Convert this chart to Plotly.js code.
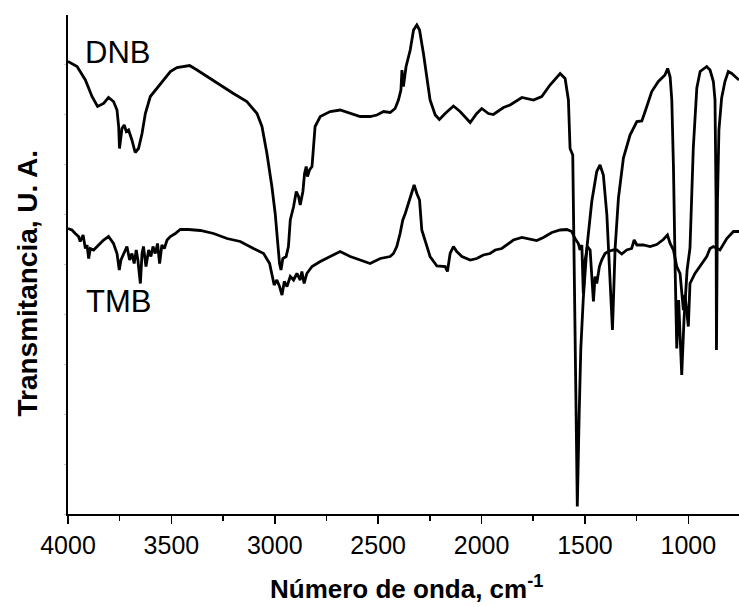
<!DOCTYPE html>
<html>
<head>
<meta charset="utf-8">
<script src="https://cdn.plot.ly/plotly-3.0.1.min.js"></script>
<style>
  html, body { margin: 0; padding: 0; background: #fff; }
  #chart { width: 739px; height: 607px; }
</style>
</head>
<body>
<div id="chart"></div>
<script>
// FTIR spectra, wavenumber (cm^-1) vs transmittance (arbitrary units)
const dnbWavenumber = [4000,3956,3916,3884,3857,3828,3804,3780,3763,3755,3751,3739,3728,3718,3707,3691,3675,3659,3642,3626,3602,3570,3538,3505,3473,3441,3412,3376,3328,3264,3200,3135,3086,3062,3038,3014,2998,2987,2977,2970,2961,2945,2934,2925,2909,2896,2885,2877,2864,2856,2848,2842,2832,2820,2805,2780,2732,2684,2635,2587,2539,2506,2474,2442,2418,2402,2390,2385,2378,2365,2345,2329,2313,2300,2281,2265,2249,2224,2204,2176,2136,2104,2055,2023,1999,1967,1943,1894,1862,1805,1749,1709,1669,1620,1596,1580,1572,1559,1551,1543,1537,1528,1520,1508,1491,1467,1443,1427,1411,1394,1378,1367,1354,1338,1314,1282,1249,1225,1209,1177,1145,1113,1100,1088,1080,1072,1064,1056,1047,1032,1021,1006,992,976,959,943,911,895,879,871,866,864,859,852,839,823,807,790,774,755];
const dnbTransmittance = [90.5,89.5,86.8,83.5,81.5,82.1,83.3,82.5,80.8,77.5,73.1,77.1,77.8,76.5,76.8,74.8,72.3,73.1,76.1,80.1,83.5,85.1,86.8,88.5,89.3,89.5,89.7,88.8,87.5,85.8,84.1,82.5,80.1,77.5,72.1,65.5,60.1,54.8,50.1,48.8,51.1,51.5,53.5,58.8,61.5,64.5,63.5,61.8,64.5,68.1,69.5,67.5,68.8,69.5,77.5,79.5,80.5,80.8,80.1,79.5,79.5,79.8,80.5,80.3,81.1,82.8,84.8,88.8,85.5,89.5,92.8,96.8,97.8,96.8,92.1,87.5,82.8,79.8,78.9,80.1,81.6,80.5,78.3,80.1,81.1,80.1,79.9,81.3,81.8,83.3,82.8,83.5,85.8,88.1,87.1,82.8,73.1,71.8,46.5,19.8,1.5,19.8,33.1,43.1,53.1,62.5,68.5,69.8,67.8,59.8,46.5,36.8,53.2,63.2,71.2,75.8,78.5,78.6,80.5,84.5,86.5,87.8,89.1,87.4,82.8,69.5,49.5,33.1,42.8,27.8,38.8,48.8,53.2,73.2,85.2,88.5,89.5,88.8,86.5,82.8,62.8,32.8,62.8,76.8,83.2,86.5,88.5,88.1,87.5,86.8];

const tmbWavenumber = [4000,3981,3965,3949,3941,3927,3916,3908,3900,3892,3876,3852,3828,3804,3780,3763,3752,3744,3731,3715,3702,3691,3680,3670,3662,3650,3642,3635,3623,3610,3599,3589,3578,3567,3557,3546,3534,3521,3505,3481,3457,3417,3360,3296,3231,3167,3103,3054,3025,3014,3003,2990,2977,2965,2954,2941,2925,2909,2893,2877,2869,2858,2845,2820,2780,2732,2684,2635,2587,2539,2490,2442,2426,2410,2394,2381,2369,2354,2337,2326,2313,2300,2289,2273,2249,2216,2176,2165,2152,2136,2120,2095,2055,2023,1991,1959,1934,1902,1878,1846,1805,1765,1733,1701,1660,1620,1588,1564,1548,1532,1524,1515,1508,1499,1488,1475,1459,1451,1443,1430,1419,1403,1387,1363,1346,1322,1298,1274,1262,1249,1218,1185,1153,1121,1101,1088,1072,1056,1040,1024,1016,1000,992,968,943,911,895,879,847,814,782,755];
const tmbTransmittance = [57.1,56.8,56.1,55.5,54.5,55.8,53.1,53.8,51.1,53.1,52.8,53.8,54.8,55.5,54.1,52.1,48.8,50.8,52.1,53.5,50.8,52.1,50.1,52.8,50.8,46.1,52.1,53.5,49.5,52.8,51.5,53.5,52.1,54.1,50.1,53.8,53.1,54.8,55.5,56.1,56.9,56.9,56.7,56.1,55.1,54.5,53.1,52.1,50.1,47.8,45.8,46.8,45.5,43.8,46.5,45.5,47.5,46.8,48.1,46.8,48.5,46.1,48.1,49.5,50.5,51.5,52.5,51.5,50.8,50.1,51.1,51.5,52.1,53.5,56.1,58.8,60.1,62.1,64.8,65.8,64.1,62.8,56.8,54.8,51.5,49.6,49.5,48.5,52.1,53.5,52.5,51.5,50.8,51.1,51.8,52.1,52.8,53.1,53.8,54.8,55.3,54.9,54.7,55.3,56.3,56.8,56.9,56.5,55.1,54.1,52.8,53.8,44.1,50.8,53.5,52.8,42.5,47.5,46.1,49.5,50.8,52.1,52.5,52.8,52.8,52.0,52.8,53.1,54.8,53.8,53.8,53.5,53.9,54.9,55.8,54.1,52.8,49.5,48.1,40.8,43.8,37.5,46.1,48.1,49.5,51.5,53.1,53.5,52.8,55.1,56.5,56.5];

const xTickVals = [4000, 3500, 3000, 2500, 2000, 1500, 1000];
const xTickText = ['4000', '3500', '3000', '2500', '2000', '1500', '1000'];
const sampleNames = ['DNB', 'TMB'];

const FONT = 'Arial, "Liberation Sans", Helvetica, sans-serif';
const lineStyle = { color: '#000', width: 2.8 };

const traces = [
  { x: dnbWavenumber, y: dnbTransmittance, name: sampleNames[0], mode: 'lines', line: lineStyle, hoverinfo: 'skip' },
  { x: tmbWavenumber, y: tmbTransmittance, name: sampleNames[1], mode: 'lines', line: lineStyle, hoverinfo: 'skip' }
];

const layout = {
  width: 739,
  height: 607,
  margin: { l: 68, r: 0, t: 15, b: 93, pad: 0 },
  paper_bgcolor: '#fff',
  plot_bgcolor: '#fff',
  showlegend: false,
  font: { family: FONT, color: '#000' },
  xaxis: {
    range: [4000, 755],
    showgrid: false,
    zeroline: false,
    showline: true,
    linecolor: '#000',
    linewidth: 2,
    ticks: 'outside',
    ticklen: 8,
    tickwidth: 1.6,
    tickcolor: '#000',
    tickvals: xTickVals,
    ticktext: xTickText,
    tickfont: { family: FONT, size: 25, color: '#000' },
    minor: { dtick: 250, tick0: 0, ticks: 'outside', ticklen: 5, tickwidth: 1.6, tickcolor: '#000', showgrid: false }
  },
  yaxis: {
    range: [0, 99.8],
    showgrid: false,
    zeroline: false,
    showline: true,
    linecolor: '#000',
    linewidth: 2,
    ticks: 'outside',
    ticklen: 2,
    tickwidth: 1,
    tickcolor: '#c8c8c8',
    dtick: 10,
    tick0: 0,
    showticklabels: false
  },
  annotations: [
    { x: 3928, y: 92.4, xref: 'x', yref: 'y', text: sampleNames[0], showarrow: false,
      xanchor: 'left', yanchor: 'middle', font: { family: FONT, size: 31, color: '#000' } },
    { x: 3924, y: 42.6, xref: 'x', yref: 'y', text: sampleNames[1], showarrow: false,
      xanchor: 'left', yanchor: 'middle', font: { family: FONT, size: 31, color: '#000' } },
    { x: 0.505, y: -0.184, xref: 'paper', yref: 'paper', text: '<b>Número de onda, cm<sup>-1</sup></b>',
      showarrow: false, xanchor: 'center', yanchor: 'bottom', font: { family: FONT, size: 26, color: '#000' } },
    { x: -0.061, y: 0.462, xref: 'paper', yref: 'paper', text: '<b>Transmitancia, U. A.</b>', textangle: -90,
      showarrow: false, xanchor: 'center', yanchor: 'middle', font: { family: FONT, size: 28, color: '#000' } }
  ]
};

Plotly.newPlot('chart', traces, layout, { staticPlot: true, displayModeBar: false });
</script>
</body>
</html>
